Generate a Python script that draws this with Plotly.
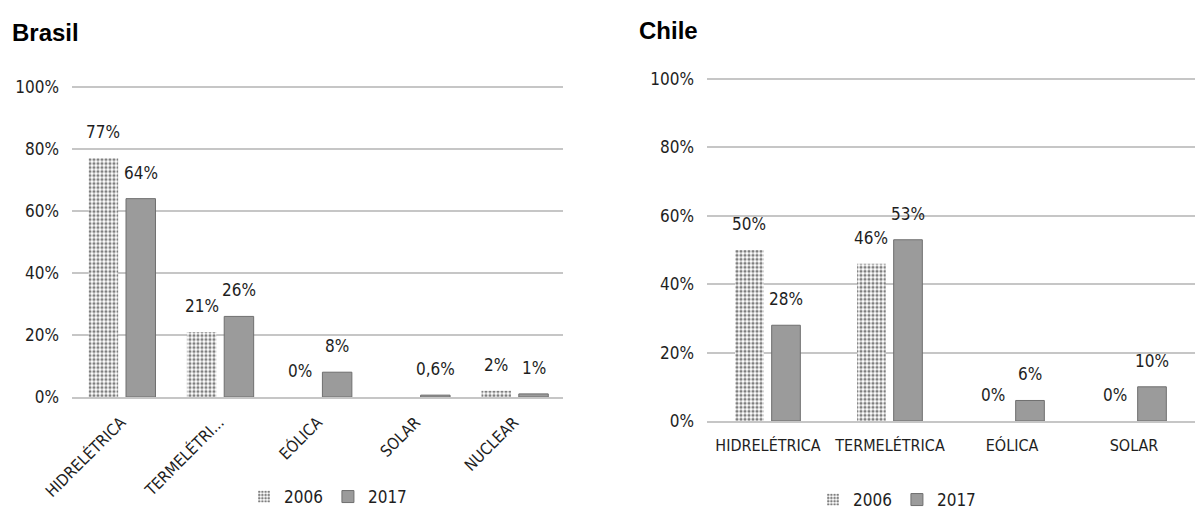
import plotly.graph_objects as go

# ---- data ----
brasil_categories = ["HIDRELÉTRICA", "TERMELÉTRICA", "EÓLICA", "SOLAR", "NUCLEAR"]
brasil_tick_labels = ["HIDRELÉTRICA", "TERMELÉTRI...", "EÓLICA", "SOLAR", "NUCLEAR"]
brasil_2006 = [77, 21, 0, None, 2]
brasil_2017 = [64, 26, 8, 0.6, 1]

chile_categories = ["HIDRELÉTRICA", "TERMELÉTRICA", "EÓLICA", "SOLAR"]
chile_tick_labels = ["HIDRELÉTRICA", "TERMELÉTRICA", "EÓLICA", "SOLAR"]
chile_2006 = [50, 46, 0, 0]
chile_2017 = [28, 53, 6, 10]

years = ["2006", "2017"]
y_ticks = [0, 20, 40, 60, 80, 100]
y_tick_labels = ["0%", "20%", "40%", "60%", "80%", "100%"]

# ---- styling ----
FONT = "Liberation Sans Narrow, DejaVu Sans Condensed, Arial Narrow, sans-serif"
TXT = "#1e1e1e"
GRID = "#c6c6c6"
SOLID = "#9b9b9b"
SOLID_EDGE = "#6f6f6f"
W, H = 1195, 525


def pct(v):
    return f"{v:g}%".replace(".", ",")


fig = go.Figure()

panels = [
    dict(v06=brasil_2006, v17=brasil_2017, cats=brasil_categories,
         xa="x", ya="y", lg="legend", width=0.30, off=(-0.33, 0.05)),
    dict(v06=chile_2006, v17=chile_2017, cats=chile_categories,
         xa="x2", ya="y2", lg="legend2", width=0.235, off=(-0.27, 0.03)),
]

annotations = []
for p in panels:
    idx = list(range(len(p["cats"])))
    fig.add_trace(go.Bar(
        x=idx, y=p["v06"], name=years[0], xaxis=p["xa"], yaxis=p["ya"], legend=p["lg"],
        width=p["width"], offset=p["off"][0],
        marker=dict(color="white", line=dict(width=0),
                    pattern=dict(shape=".", fgcolor="#000000", bgcolor="white",
                                 size=4, solidity=0.5)),
        hoverinfo="skip",
    ))
    fig.add_trace(go.Bar(
        x=idx, y=p["v17"], name=years[1], xaxis=p["xa"], yaxis=p["ya"], legend=p["lg"],
        width=p["width"], offset=p["off"][1],
        marker=dict(color=SOLID, line=dict(color=SOLID_EDGE, width=1)),
        hoverinfo="skip",
    ))
    # value labels above each bar
    for series, off in ((p["v06"], p["off"][0]), (p["v17"], p["off"][1])):
        for i, v in zip(idx, series):
            if v is None:
                continue
            annotations.append(dict(
                x=i + off + p["width"] / 2, y=v, xref=p["xa"], yref=p["ya"],
                text=pct(v), showarrow=False, yshift=26, yanchor="middle",
                font=dict(family=FONT, size=17, color=TXT),
            ))

# panel titles
title_font = dict(family="Liberation Sans, Arial, sans-serif", size=24, color="black")
annotations.append(dict(x=10 / W, y=1 - 32 / H, xref="paper", yref="paper", text="<b>Brasil</b>",
                        showarrow=False, xanchor="left", yanchor="middle", font=title_font))
annotations.append(dict(x=637 / W, y=1 - 31 / H, xref="paper", yref="paper", text="<b>Chile</b>",
                        showarrow=False, xanchor="left", yanchor="middle", font=title_font))

axis_font = dict(family=FONT, size=17, color=TXT)
xtick_font = dict(family=FONT, size=16, color=TXT)

common_y = dict(range=[0, 100.5], tickmode="array", tickvals=y_ticks, ticktext=y_tick_labels,
                showgrid=True, gridcolor=GRID, gridwidth=1.5, zeroline=False, showline=False,
                ticks="", tickfont=axis_font, ticklabelstandoff=12, automargin=False,
                fixedrange=True)
common_x = dict(tickmode="array", showgrid=False, showline=True, linecolor=GRID, linewidth=1.5,
                ticks="", tickfont=xtick_font, automargin=False, fixedrange=True)

fig.update_layout(
    width=W, height=H,
    margin=dict(l=0, r=0, t=0, b=0),
    paper_bgcolor="white", plot_bgcolor="white",
    barmode="overlay",
    showlegend=True,
    annotations=annotations,
    xaxis=dict(common_x, domain=[72 / W, 563 / W],
               tickvals=list(range(len(brasil_categories))), ticktext=brasil_tick_labels,
               range=[-0.5, len(brasil_categories) - 0.5], tickangle=-45, anchor="y",
               ticklabelstandoff=8),
    yaxis=dict(common_y, domain=[(H - 397) / H, (H - 85.5) / H], anchor="x"),
    xaxis2=dict(common_x, domain=[707 / W, 1.0],
                tickvals=list(range(len(chile_categories))), ticktext=chile_tick_labels,
                range=[-0.5, len(chile_categories) - 0.5], tickangle=0, anchor="y2",
                ticklabelstandoff=9),
    yaxis2=dict(common_y, domain=[(H - 421) / H, (H - 77.3) / H], anchor="x2"),
    legend=dict(orientation="h", x=328 / W, y=28 / H, xanchor="center", yanchor="middle",
                font=dict(family=FONT, size=17, color=TXT), itemwidth=30,
                bgcolor="rgba(0,0,0,0)"),
    legend2=dict(orientation="h", x=897 / W, y=25 / H, xanchor="center", yanchor="middle",
                 font=dict(family=FONT, size=17, color=TXT), itemwidth=30,
                 bgcolor="rgba(0,0,0,0)"),
)

fig.write_html("out.html")
